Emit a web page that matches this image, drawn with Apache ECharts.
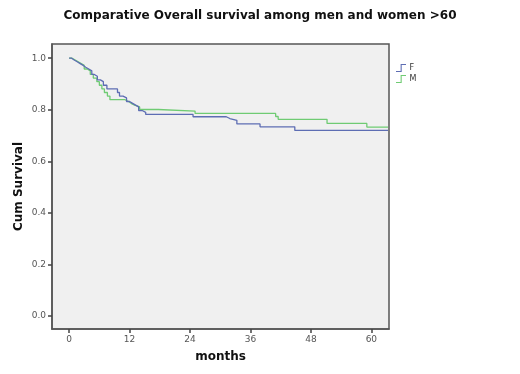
<!DOCTYPE html>
<html>
<head>
<meta charset="utf-8">
<script src="https://cdn.jsdelivr.net/npm/echarts@6/dist/echarts.min.js"></script>
<style>
  html, body { margin: 0; padding: 0; background: #fff; }
  #chart { width: 520px; height: 374px; }
</style>
</head>
<body>
<div id="chart"></div>
<script>
// Kaplan-Meier steps: [months, cum survival]
var femaleTimes = [0, 0.5, 1.0, 1.6, 2.2, 2.8, 3.3, 3.9, 4.5, 5.0, 5.6, 6.2, 6.8, 7.5, 9.6, 10.0, 10.7, 11.4, 12.0, 12.6, 13.2, 13.8, 14.5, 15.2, 24.6, 31.2, 31.9, 33.3, 37.9, 44.8, 63.3];
var femaleSurv  = [1.0, 0.993, 0.986, 0.979, 0.972, 0.965, 0.958, 0.951, 0.937, 0.930, 0.916, 0.909, 0.895, 0.881, 0.867, 0.853, 0.846, 0.832, 0.825, 0.818, 0.811, 0.797, 0.790, 0.782, 0.773, 0.766, 0.759, 0.745, 0.734, 0.720, 0.720];

var maleTimes = [0, 0.6, 1.2, 1.8, 2.4, 3.0, 3.6, 4.2, 4.8, 5.5, 6.0, 6.5, 7.0, 7.6, 8.1, 11.1, 11.8, 12.3, 13.0, 14.0, 17.7, 25.0, 41.0, 41.5, 51.2, 59.1, 63.3];
var maleSurv  = [1.0, 0.993, 0.986, 0.979, 0.972, 0.958, 0.951, 0.937, 0.923, 0.909, 0.895, 0.881, 0.867, 0.853, 0.839, 0.832, 0.825, 0.818, 0.811, 0.801, 0.795, 0.786, 0.774, 0.763, 0.747, 0.733, 0.733];

var xTicks = [0, 12, 24, 36, 48, 60];
var yTicks = [0, 0.2, 0.4, 0.6, 0.8, 1.0];

function pairs(t, s) {
    var out = [];
    for (var i = 0; i < t.length; i++) out.push([t[i], s[i]]);
    return out;
}

var stepIcon = 'path://M0,9 L6,9 L6,0 L13,0 L13,1.4 L7.4,1.4 L7.4,10.4 L0,10.4 Z';

var chart = echarts.init(document.getElementById('chart'));
chart.setOption({
    animation: false,
    backgroundColor: '#ffffff',
    textStyle: { fontFamily: 'DejaVu Sans' },
    title: {
        text: 'Comparative Overall survival among men and women >60',
        left: 'center',
        top: 5,
        textStyle: { fontSize: 12, fontWeight: 'bold', color: '#111', fontFamily: 'DejaVu Sans' }
    },
    legend: {
        orient: 'vertical',
        left: 391,
        top: 59,
        itemWidth: 13,
        itemHeight: 8,
        itemGap: 3,
        data: [
            { name: 'F', icon: stepIcon },
            { name: 'M', icon: stepIcon }
        ],
        textStyle: { fontSize: 8, color: '#333', padding: [0, 0, 0, -3] }
    },
    grid: {
        left: 52,
        right: 131,
        top: 44,
        bottom: 45,
        show: true,
        backgroundColor: '#f0f0f0',
        borderColor: '#555',
        borderWidth: 1.5
    },
    xAxis: {
        type: 'value',
        min: -3.4,
        max: 63.5,
        name: 'months',
        nameLocation: 'middle',
        nameGap: 22,
        nameTextStyle: { fontSize: 12, fontWeight: 'bold', color: '#111' },
        axisLine: { show: true, onZero: false, lineStyle: { color: '#555', width: 1.5 } },
        axisTick: { show: true, length: 4, customValues: xTicks, lineStyle: { color: '#444', width: 1.5 } },
        axisLabel: { customValues: xTicks, fontSize: 9, color: '#555', margin: 6 },
        splitLine: { show: false }
    },
    yAxis: {
        type: 'value',
        min: -0.05,
        max: 1.055,
        name: 'Cum Survival',
        nameLocation: 'middle',
        nameGap: 27,
        nameMoveOverlap: false,
        nameTextStyle: { fontSize: 12, fontWeight: 'bold', color: '#111' },
        axisLine: { show: true, onZero: false, lineStyle: { color: '#555', width: 1.5 } },
        axisTick: { show: true, length: 4, customValues: yTicks, lineStyle: { color: '#444', width: 1.5 } },
        axisLabel: {
            customValues: yTicks, fontSize: 9, color: '#555', margin: 6,
            formatter: function (v) { return v.toFixed(1); }
        },
        splitLine: { show: false }
    },
    series: [
        {
            name: 'F',
            type: 'line',
            step: 'end',
            symbol: 'none',
            color: '#5d6db3',
            lineStyle: { width: 1.3 },
            data: pairs(femaleTimes, femaleSurv),
            z: 3
        },
        {
            name: 'M',
            type: 'line',
            step: 'end',
            symbol: 'none',
            color: '#6fcb73',
            lineStyle: { width: 1.3 },
            data: pairs(maleTimes, maleSurv),
            z: 2
        }
    ]
});
</script>
</body>
</html>
